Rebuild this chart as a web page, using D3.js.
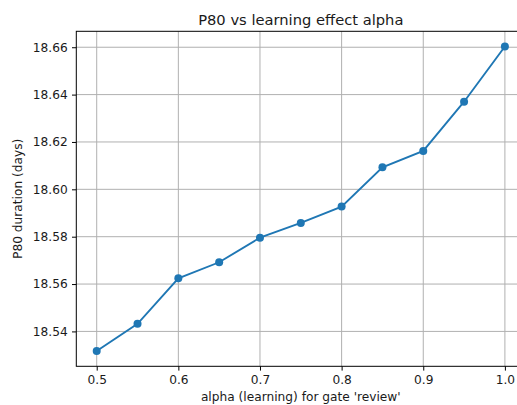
<!DOCTYPE html>
<html>
<head>
<meta charset="utf-8">
<script src="https://cdn.jsdelivr.net/npm/d3@7"></script>
<style>
  body { margin: 0; background: #fff; }
  text { font-family: "DejaVu Sans", sans-serif; fill: #1a1a1a; }
</style>
</head>
<body>
<div id="chart"></div>
<script>
// alpha values and P80 durations
var alphas = [0.5, 0.55, 0.6, 0.65, 0.7, 0.75, 0.8, 0.85, 0.9, 0.95, 1.0];
var p80 = [18.5317, 18.5432, 18.5624, 18.5692, 18.5796, 18.5858, 18.5927, 18.6093, 18.6162, 18.6370, 18.6603];
var xTicks = [0.5, 0.6, 0.7, 0.8, 0.9, 1.0];
var yTicks = [18.54, 18.56, 18.58, 18.60, 18.62, 18.64, 18.66];

var datas = alphas.map(function (a, i) { return { alpha: a, value: p80[i] }; });

// axes box in page pixels (right edge falls just outside the window)
var margin = { top: 31.3, left: 76.3 },
    width = 449,
    height = 335;

var svg = d3.select("#chart").append("svg")
    .attr("width", 517)
    .attr("height", 405);

var g = svg.append("g")
    .attr("transform", "translate(" + margin.left + "," + margin.top + ")");

// 5% padding like the original plotting defaults
var xPad = (d3.max(alphas) - d3.min(alphas)) * 0.05,
    yPad = (d3.max(p80) - d3.min(p80)) * 0.05;

var x = d3.scaleLinear()
    .domain([d3.min(alphas) - xPad, d3.max(alphas) + xPad])
    .range([0, width]);

var y = d3.scaleLinear()
    .domain([d3.min(p80) - yPad, d3.max(p80) + yPad])
    .range([height, 0]);

// grid lines
g.append("g")
    .selectAll("line")
    .data(xTicks)
    .enter()
    .append("line")
    .attr("x1", function (d) { return x(d); })
    .attr("x2", function (d) { return x(d); })
    .attr("y1", 0)
    .attr("y2", height)
    .attr("stroke", "#b0b0b0")
    .attr("stroke-width", 1);

g.append("g")
    .selectAll("line")
    .data(yTicks)
    .enter()
    .append("line")
    .attr("x1", 0)
    .attr("x2", width)
    .attr("y1", function (d) { return y(d); })
    .attr("y2", function (d) { return y(d); })
    .attr("stroke", "#b0b0b0")
    .attr("stroke-width", 1);

// axes
var xAxis = d3.axisBottom(x)
    .tickValues(xTicks)
    .tickFormat(d3.format(".1f"))
    .tickSize(4.3)
    .tickPadding(4.3);

var yAxis = d3.axisLeft(y)
    .tickValues(yTicks)
    .tickFormat(d3.format(".2f"))
    .tickSize(4.3)
    .tickPadding(4.3);

var gx = g.append("g")
    .attr("transform", "translate(0," + height + ")")
    .call(xAxis);

var gy = g.append("g")
    .call(yAxis);

[gx, gy].forEach(function (a) {
    a.select(".domain").remove();
    a.selectAll("line").attr("stroke", "#000").attr("stroke-width", 1);
    a.selectAll("text")
        .style("font-family", "'DejaVu Sans', sans-serif")
        .style("font-size", "12.2px")
        .attr("fill", "#1a1a1a");
});

// spines
g.append("rect")
    .attr("x", 0)
    .attr("y", 0)
    .attr("width", width)
    .attr("height", height)
    .attr("fill", "none")
    .attr("stroke", "#000")
    .attr("stroke-width", 1);

// line and markers
var line = d3.line()
    .x(function (d) { return x(d.alpha); })
    .y(function (d) { return y(d.value); });

g.append("path")
    .datum(datas)
    .attr("d", line)
    .attr("fill", "none")
    .attr("stroke", "#1f77b4")
    .attr("stroke-width", 1.9);

g.selectAll(".dot")
    .data(datas)
    .enter()
    .append("circle")
    .attr("class", "dot")
    .attr("cx", function (d) { return x(d.alpha); })
    .attr("cy", function (d) { return y(d.value); })
    .attr("r", 4)
    .attr("fill", "#1f77b4");

// title and axis labels
svg.append("text")
    .attr("x", margin.left + width / 2)
    .attr("y", 24.5)
    .attr("text-anchor", "middle")
    .style("font-size", "14.7px")
    .text("P80 vs learning effect alpha");

svg.append("text")
    .attr("x", margin.left + width / 2)
    .attr("y", 401)
    .attr("text-anchor", "middle")
    .style("font-size", "12.2px")
    .text("alpha (learning) for gate 'review'");

svg.append("text")
    .attr("transform", "translate(22," + (margin.top + height / 2) + ") rotate(-90)")
    .attr("text-anchor", "middle")
    .style("font-size", "12.2px")
    .text("P80 duration (days)");
</script>
</body>
</html>
